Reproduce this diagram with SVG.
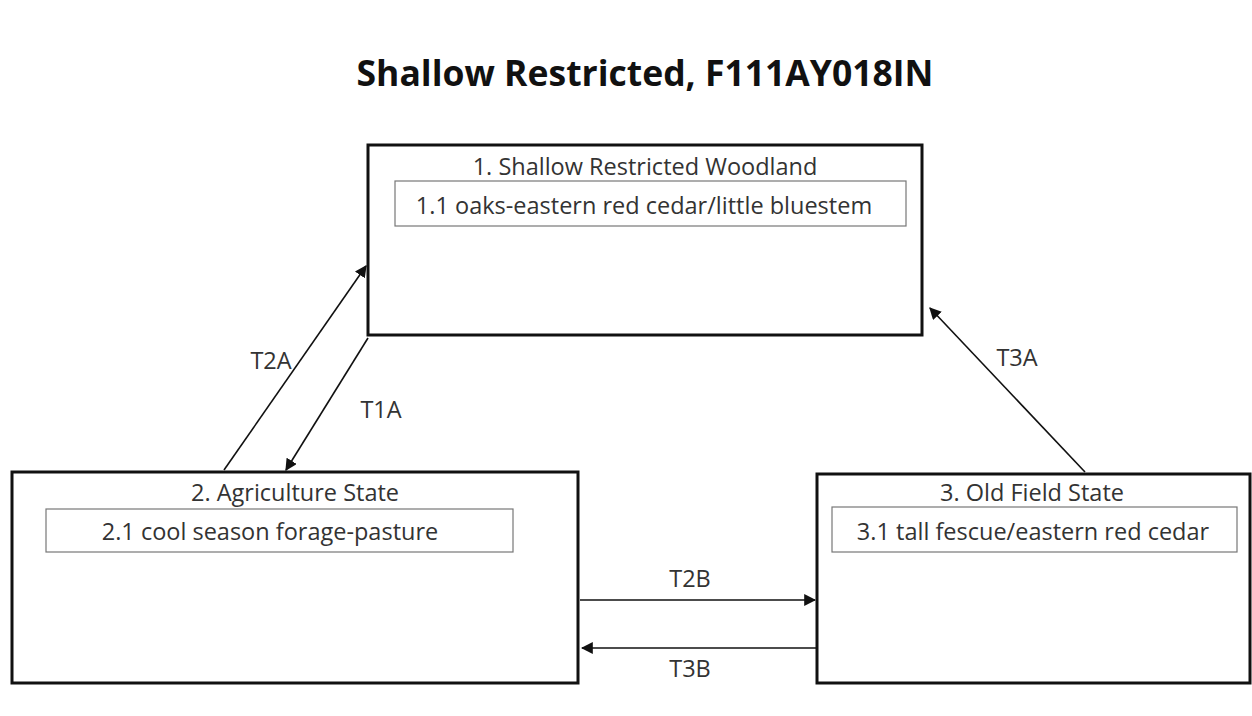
<svg xmlns="http://www.w3.org/2000/svg" width="1252" height="716" viewBox="0 0 1252 716">
<defs>
<marker id="ah" viewBox="0 0 10 10" refX="9" refY="5" markerWidth="12" markerHeight="12" markerUnits="userSpaceOnUse" orient="auto">
<path d="M0,0 L10,5 L0,10 z" fill="#111"/>
</marker>
<style>
.state{fill:#fff;stroke:#111;stroke-width:3}
.inner{fill:#fff;stroke:#777;stroke-width:1.2}
.lbl{font-family:"Open Sans","Liberation Sans",sans-serif;font-size:23.5px;fill:#333;text-anchor:middle}
.ttl{font-family:"Open Sans","Liberation Sans",sans-serif;font-size:35.5px;font-weight:bold;fill:#111;text-anchor:middle}
.con{stroke:#111;stroke-width:1.6;fill:none;marker-end:url(#ah)}
</style>
</defs>
<rect width="1252" height="716" fill="#fff"/>
<text class="ttl" x="645" y="86">Shallow Restricted, F111AY018IN</text>
<g id="state1">
<rect class="state" x="368" y="145" width="554" height="190"/>
<text class="lbl" x="645" y="175">1. Shallow Restricted Woodland</text>
<rect class="inner" x="395" y="181" width="511" height="45"/>
<text class="lbl" x="644" y="214">1.1 oaks-eastern red cedar/little bluestem</text>
</g>
<g id="state2">
<rect class="state" x="12" y="472" width="566" height="211"/>
<text class="lbl" x="295" y="501">2. Agriculture State</text>
<rect class="inner" x="46" y="509" width="467" height="43"/>
<text class="lbl" x="270" y="540">2.1 cool season forage-pasture</text>
</g>
<g id="state3">
<rect class="state" x="817" y="474" width="433" height="209"/>
<text class="lbl" x="1032" y="501">3. Old Field State</text>
<rect class="inner" x="832" y="507" width="405" height="45"/>
<text class="lbl" x="1033" y="540">3.1 tall fescue/eastern red cedar</text>
</g>
<g id="connectors">
<line class="con" x1="224" y1="470" x2="366" y2="266"/>
<line class="con" x1="368" y1="338" x2="286" y2="470"/>
<line class="con" x1="1085" y1="472" x2="930" y2="308"/>
<line class="con" x1="580" y1="600" x2="815" y2="600"/>
<line class="con" x1="817" y1="648" x2="582" y2="648"/>
<text class="lbl" x="271" y="369">T2A</text>
<text class="lbl" x="381" y="418">T1A</text>
<text class="lbl" x="1017" y="366">T3A</text>
<text class="lbl" x="690" y="587">T2B</text>
<text class="lbl" x="690" y="677">T3B</text>
</g>
</svg>
